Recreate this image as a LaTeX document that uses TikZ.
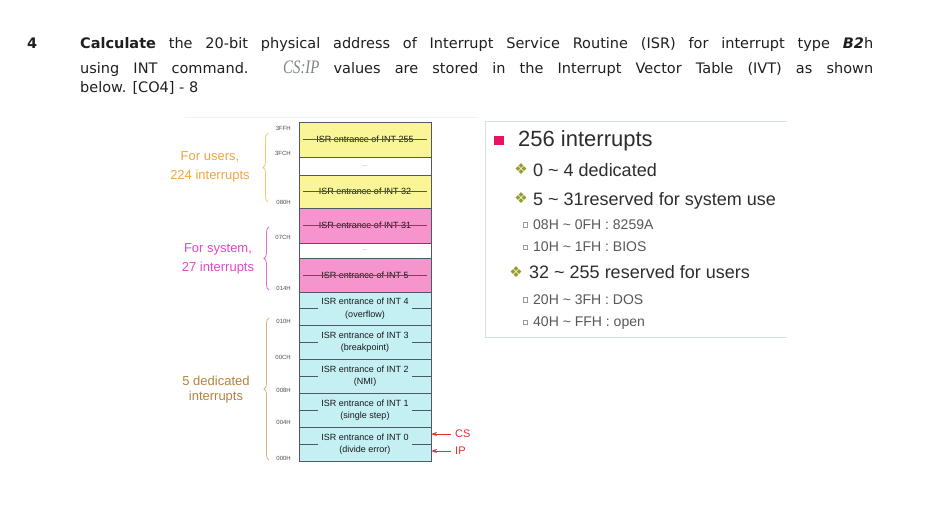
\documentclass[tikz,border=0pt]{standalone}
\usepackage{fontspec}
\usepackage{graphicx}
\setmainfont{DejaVu Sans}
\newfontfamily\cellfont{Liberation Sans}
\newfontfamily\csipfont{Liberation Serif}
\usetikzlibrary{arrows.meta, positioning, decorations.pathreplacing}
\definecolor{useryellow}{RGB}{250,245,150}
\definecolor{syspink}{RGB}{246,148,206}
\definecolor{dedcyan}{RGB}{196,240,244}
\definecolor{cellline}{RGB}{80,88,96}
\definecolor{userorange}{RGB}{240,165,60}
\definecolor{userbrace}{RGB}{245,200,120}
\definecolor{sysmagenta}{RGB}{228,70,200}
\definecolor{sysbrace}{RGB}{225,110,200}
\definecolor{dedbrown}{RGB}{180,130,60}
\definecolor{dedbrace}{RGB}{210,180,130}
\definecolor{regred}{RGB}{220,50,50}
\definecolor{bulletpink}{RGB}{230,20,100}
\definecolor{bulletolive}{RGB}{150,155,45}
\definecolor{panelline}{RGB}{214,224,234}
\definecolor{paneltext}{RGB}{45,45,45}
\definecolor{csgray}{RGB}{125,130,140}

\begin{document}
\begin{tikzpicture}[
    x=1pt, y=-1pt,
    qtext/.style={anchor=base west, inner sep=0pt, font=\fontsize{14.5}{16}\selectfont, text=black!88},
    cell/.style={rectangle, draw=cellline, line width=0.7pt, fill=#1, minimum width=132pt,
                 inner sep=0pt, outer sep=0pt, align=center, text=black!90,
                 font=\cellfont\fontsize{9}{12.5}\selectfont},
    gapcell/.style={cell=white, font=\cellfont\fontsize{6}{6}\selectfont, text=gray},
    strike/.style={draw=cellline, line width=0.6pt},
    tick/.style={draw=cellline, line width=0.6pt},
    addr/.style={anchor=east, inner sep=0pt, font=\cellfont\fontsize{6}{6}\selectfont, text=gray!60!black},
    groupbrace/.style={decorate, decoration={brace, amplitude=5pt}, line width=0.8pt, draw=#1},
    grouplabel/.style={align=center, inner sep=0pt, font=\cellfont\fontsize{13}{18.5}\selectfont, text=#1},
    regarrow/.style={-{Stealth[length=6pt, width=4pt]}, line width=1pt, draw=regred},
    reglabel/.style={anchor=west, inner sep=0pt, font=\cellfont\fontsize{11}{11}\selectfont, text=regred},
    lvlhead/.style={anchor=base west, inner sep=0pt, font=\cellfont\fontsize{22}{22}\selectfont, text=paneltext},
    lvlone/.style={anchor=base west, inner sep=0pt, font=\cellfont\fontsize{18}{18}\selectfont, text=paneltext},
    lvltwo/.style={anchor=base west, inner sep=0pt, font=\cellfont\fontsize{14}{14}\selectfont, text=paneltext!80},
    olivebullet/.style={inner sep=0pt, font=\fontsize{15}{15}\selectfont, text=bulletolive},
    sqbullet/.style={draw=gray!80, line width=0.5pt, minimum width=4pt, minimum height=4.5pt, inner sep=0pt},
]
\useasboundingbox (0,0) rectangle (930,504);

% Question
\node[qtext, font=\bfseries\fontsize{14.5}{16}\selectfont] (qnum) at (27,48) {4};
\node[qtext] (q1) at (80,48) {\makebox[793pt][s]{\textbf{Calculate} the 20-bit physical address of Interrupt Service Routine (ISR) for interrupt type \textbf{\textit{B2}}h}};
\node[qtext] (q2) at (80,73) {\makebox[793pt][s]{using INT command. {\csipfont\itshape\fontsize{19}{19}\selectfont\color{csgray}\scalebox{0.78}[1]{CS:IP}} values are stored in the Interrupt Vector Table (IVT) as shown}};
\node[qtext] (q3) at (80,92) {below. [CO4] - 8};

\draw[gray!10] (185,117) -- (478,117);

% Users block
\node[cell=useryellow, minimum height=35pt, anchor=north west] (r255) at (299,122) {ISR entrance of INT 255};
\node[gapcell, minimum height=18pt, below=0pt of r255] (gap1) {...};
\node[cell=useryellow, minimum height=33pt, below=0pt of gap1] (r32) {ISR entrance of INT 32};

% System block
\node[cell=syspink, minimum height=35pt, below=0pt of r32] (r31) {ISR entrance of INT 31};
\node[gapcell, minimum height=15pt, below=0pt of r31] (gap2) {...};
\node[cell=syspink, minimum height=34pt, below=0pt of gap2] (r5) {ISR entrance of INT 5};

\draw[strike] ([xshift=4pt]r255.west) -- ([xshift=-4pt]r255.east);
\draw[strike] ([xshift=4pt]r32.west) -- ([xshift=-4pt]r32.east);
\draw[strike] ([xshift=4pt]r31.west) -- ([xshift=-4pt]r31.east);
\draw[strike] ([xshift=4pt]r5.west) -- ([xshift=-4pt]r5.east);

% Dedicated block
\node[cell=dedcyan, minimum height=33pt, below=0pt of r5] (r4) {ISR entrance of INT 4\\(overflow)};
\node[cell=dedcyan, minimum height=34pt, below=0pt of r4] (r3) {ISR entrance of INT 3\\(breakpoint)};
\node[cell=dedcyan, minimum height=34pt, below=0pt of r3] (r2) {ISR entrance of INT 2\\(NMI)};
\node[cell=dedcyan, minimum height=34pt, below=0pt of r2] (r1) {ISR entrance of INT 1\\(single step)};
\node[cell=dedcyan, minimum height=34pt, below=0pt of r1] (r0) {ISR entrance of INT 0\\(divide error)};

\draw[tick] (r4.west) -- ++(19,0);  \draw[tick] (r4.east) -- ++(-19,0);
\draw[tick] (r3.west) -- ++(19,0);  \draw[tick] (r3.east) -- ++(-19,0);
\draw[tick] (r2.west) -- ++(19,0);  \draw[tick] (r2.east) -- ++(-19,0);
\draw[tick] (r1.west) -- ++(19,0);  \draw[tick] (r1.east) -- ++(-19,0);
\draw[tick] (r0.west) -- ++(19,0);  \draw[tick] (r0.east) -- ++(-19,0);

% Addresses
\node[addr] (a3ff) at (291,128) {3FFH};
\node[addr] (a3fc) at (291,153) {3FCH};
\node[addr] (a080) at (291,202) {080H};
\node[addr] (a07c) at (291,237) {07CH};
\node[addr] (a014) at (291,288) {014H};
\node[addr] (a010) at (291,321) {010H};
\node[addr] (a00c) at (291,357) {00CH};
\node[addr] (a008) at (291,390) {008H};
\node[addr] (a004) at (291,422) {004H};
\node[addr] (a000) at (291,458) {000H};

% Braces and group labels
\draw[groupbrace=userbrace] (268,202) -- (268,133);
\draw[groupbrace=sysbrace] (269,290) -- (269,227);
\draw[groupbrace=dedbrace] (269,460) -- (269,318);
\node[grouplabel=userorange] (users) at (210,167) {For users,\\224 interrupts};
\node[grouplabel=sysmagenta] (system) at (218,259) {For system,\\27 interrupts};
\node[grouplabel=dedbrown] (dedicated) at (216,389.5) {5 dedicated\\[-4pt]interrupts};

% CS / IP pointers
\node[reglabel] (cs) at (455,434) {CS};
\node[reglabel] (ip) at (455,451) {IP};
\draw[regarrow] ([xshift=-4pt]cs.west) -- (cs.west -| r0.east);
\draw[regarrow] ([xshift=-4pt]ip.west) -- (ip.west -| r0.east);

% Summary panel
\draw[panelline, line width=0.8pt] (787,121) -- (485,121) -- (485,337) -- (787,337);
\node[fill=bulletpink, minimum width=10pt, minimum height=9pt, inner sep=0pt] (hbul) at (498.5,140) {};
\node[lvlhead] (hdr) at (518,146.5) {256 interrupts};
\node[olivebullet] (b1) at (521,169) {❖};
\node[lvlone] (l1) at (533,176) {0 \textasciitilde{} 4 dedicated};
\node[olivebullet] (b2) at (521,198) {❖};
\node[lvlone] (l2) at (533,205) {5 \textasciitilde{} 31reserved for system use};
\node[sqbullet] (s1) at (525,224.5) {};
\node[lvltwo] (l21) at (533,229.3) {08H \textasciitilde{} 0FH : 8259A};
\node[sqbullet] (s2) at (525,247) {};
\node[lvltwo] (l22) at (533,251.7) {10H \textasciitilde{} 1FH : BIOS};
\node[olivebullet] (b3) at (516,272) {❖};
\node[lvlone] (l3) at (529,278) {32 \textasciitilde{} 255 reserved for users};
\node[sqbullet] (s3) at (525,299.5) {};
\node[lvltwo] (l31) at (533,304) {20H \textasciitilde{} 3FH : DOS};
\node[sqbullet] (s4) at (525,322) {};
\node[lvltwo] (l32) at (533,326.5) {40H \textasciitilde{} FFH : open};

\end{tikzpicture}
\end{document}
